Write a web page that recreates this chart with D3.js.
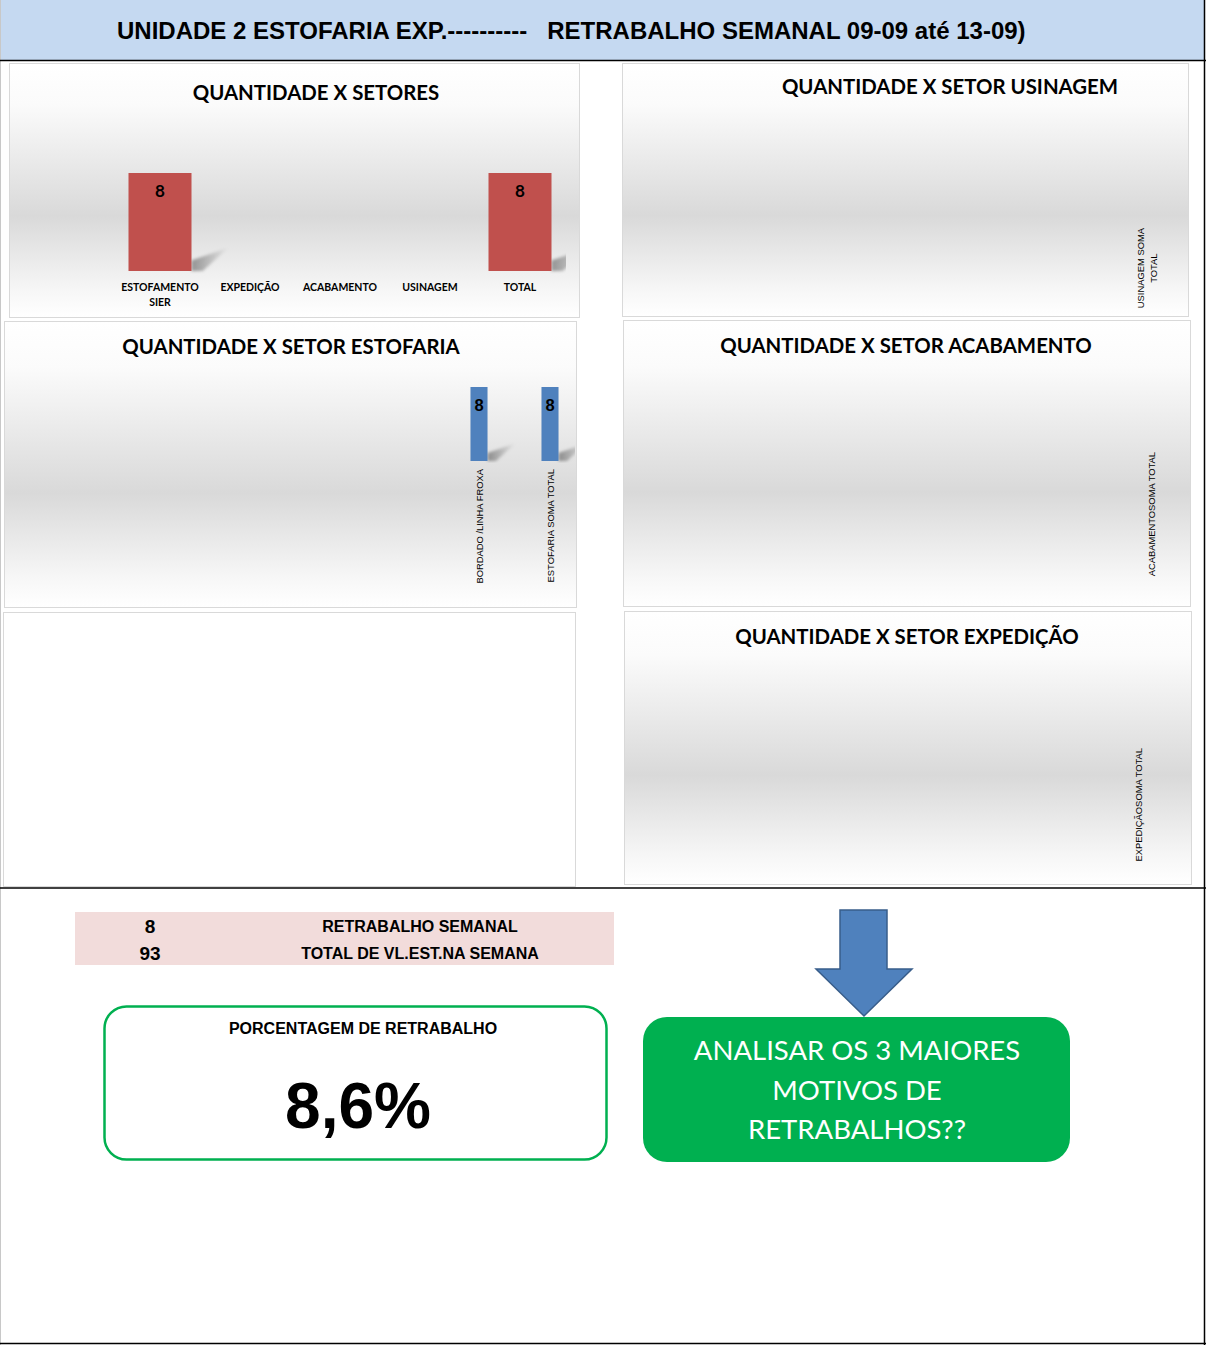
<!DOCTYPE html>
<html><head><meta charset="utf-8">
<script src="https://cdn.jsdelivr.net/npm/d3@7"></script>
<style>body{margin:0;background:#fff}svg{display:block}text{white-space:pre}</style>
</head><body><svg id="c" width="1206" height="1345"></svg>
<script>
// ---------------- DATA ----------------
const headerTitle = "UNIDADE 2 ESTOFARIA EXP.----------   RETRABALHO SEMANAL 09-09 até 13-09)";
const setoresCategories = ["ESTOFAMENTO SIER", "EXPEDIÇÃO", "ACABAMENTO", "USINAGEM", "TOTAL"];
const setoresValues = [8, 0, 0, 0, 8];
const estofariaCategories = ["BORDADO /LINHA FROXA", "ESTOFARIA SOMA TOTAL"];
const estofariaValues = [8, 8];
const usinagemCategories = ["USINAGEM SOMA TOTAL"];
const usinagemValues = [0];
const acabamentoCategories = ["ACABAMENTOSOMA TOTAL"];
const acabamentoValues = [0];
const expedicaoCategories = ["EXPEDIÇÃOSOMA TOTAL"];
const expedicaoValues = [0];
const summaryValues = [8, 93];
const summaryLabels = ["RETRABALHO SEMANAL", "TOTAL DE VL.EST.NA SEMANA"];
const percentTitle = "PORCENTAGEM DE RETRABALHO";
const actionLines = ["ANALISAR OS 3 MAIORES", "MOTIVOS DE", "RETRABALHOS??"];

// ---------------- SETUP ----------------
const svg = d3.select("#c");
const defs = svg.append("defs");
const ARIAL = "Arial, 'Liberation Sans', sans-serif";
const CAL = "Lato, 'Open Sans', sans-serif";

const bg = defs.append("linearGradient").attr("id", "bgGrad").attr("x1", 0).attr("y1", 0).attr("x2", 0).attr("y2", 1);
[[0, "#ffffff"], [0.16, "#fbfbfb"], [0.6, "#d9d9d9"], [0.9, "#f7f7f7"], [1, "#ffffff"]]
  .forEach(([o, c]) => bg.append("stop").attr("offset", o).attr("stop-color", c));

const sh = defs.append("linearGradient").attr("id", "shGrad").attr("x1", 0).attr("y1", 0).attr("x2", 1).attr("y2", 0);
sh.append("stop").attr("offset", 0).attr("stop-color", "#000").attr("stop-opacity", 0.38);
sh.append("stop").attr("offset", 1).attr("stop-color", "#000").attr("stop-opacity", 0);
defs.append("filter").attr("id", "blur").append("feGaussianBlur").attr("stdDeviation", 1.6);

// page frame
svg.append("rect").attr("x", 0).attr("y", 0).attr("width", 1205).attr("height", 60).attr("fill", "#c5d9f1");
svg.append("line").attr("x1", 0.5).attr("x2", 0.5).attr("y1", 0).attr("y2", 1345).attr("stroke", "#c8c8c8");
svg.append("line").attr("x1", 1204.5).attr("x2", 1204.5).attr("y1", 0).attr("y2", 1345).attr("stroke", "#000").attr("stroke-width", 1.5);
svg.append("line").attr("x1", 0).attr("x2", 1206).attr("y1", 60.5).attr("y2", 60.5).attr("stroke", "#000").attr("stroke-width", 1.5);
svg.append("line").attr("x1", 0).attr("x2", 1206).attr("y1", 888).attr("y2", 888).attr("stroke", "#000").attr("stroke-width", 1.5);
svg.append("line").attr("x1", 0).attr("x2", 1206).attr("y1", 1343.5).attr("y2", 1343.5).attr("stroke", "#000").attr("stroke-width", 1.5);

svg.append("text").attr("x", 117).attr("y", 39).attr("font-family", ARIAL).attr("font-weight", "bold")
  .attr("font-size", 24).attr("fill", "#000").text(headerTitle);

// ---------------- CHART PANELS ----------------
function panel(x, y, w, h, gradient) {
  svg.append("rect").attr("x", x + 0.5).attr("y", y + 0.5).attr("width", w).attr("height", h)
    .attr("fill", gradient ? "url(#bgGrad)" : "#fff").attr("stroke", "#d9d9d9");
}

function chart(cfg) {
  panel(cfg.px, cfg.py, cfg.pw, cfg.ph, true);
  const g = svg.append("g");
  const clipId = "clip" + cfg.id;
  defs.append("clipPath").attr("id", clipId).append("rect")
    .attr("x", cfg.px + 1).attr("y", cfg.py + 1).attr("width", cfg.clipW || cfg.pw - 2).attr("height", cfg.ph - 2);
  g.append("text").attr("x", cfg.tx).attr("y", cfg.ty).attr("text-anchor", "middle")
    .attr("font-family", CAL).attr("font-weight", "bold").attr("font-size", 20.4).attr("fill", "#000").text(cfg.title);

  const x = d3.scaleBand().domain(cfg.cats).range(cfg.xr).paddingInner(cfg.pin).paddingOuter(cfg.pin / 2);
  const y = d3.scaleLinear().domain([0, 8]).range([cfg.base, cfg.top]);
  const data = cfg.cats.map((c, i) => ({ c, v: cfg.vals[i] }));

  // shadows
  g.append("g").attr("clip-path", `url(#${clipId})`).selectAll("path").data(data.filter(d => d.v > 0)).join("path")
    .attr("d", d => {
      const xr = x(d.c) + x.bandwidth(), b = y(0), hgt = y(0) - y(d.v);
      const dx = hgt * 0.38, dy = hgt * 0.24;
      return `M${xr},${b} L${xr},${b - dy * 0.45} L${xr + dx},${b - dy} L${xr + dx * 0.3},${b} Z`;
    })
    .attr("fill", "url(#shGrad)").attr("filter", "url(#blur)");

  g.selectAll("rect.bar").data(data).join("rect").attr("class", "bar")
    .attr("x", d => x(d.c)).attr("width", x.bandwidth())
    .attr("y", d => y(d.v)).attr("height", d => y(0) - y(d.v)).attr("fill", cfg.color);

  g.selectAll("text.val").data(data.filter(d => d.v > 0)).join("text").attr("class", "val")
    .attr("x", d => x(d.c) + x.bandwidth() / 2).attr("y", d => y(d.v) + cfg.valDy)
    .attr("text-anchor", "middle").attr("font-family", cfg.valFont).attr("font-weight", "bold")
    .attr("font-size", cfg.valSize).attr("fill", "#000").text(d => String(d.v));

  // category labels
  data.forEach(d => {
    const cx = x(d.c) + x.bandwidth() / 2;
    if (cfg.rotated) {
      const lines = cfg.wrap && cfg.wrap[d.c] ? cfg.wrap[d.c] : [d.c];
      const lh = 13;
      const x0 = cx - (lines.length - 1) * lh / 2;
      let firstLen = 0;
      lines.forEach((ln, i) => {
        const lx = x0 + i * lh;
        const t = g.append("text").attr("font-family", ARIAL).attr("font-size", 9.4).attr("fill", "#000")
          .attr("dominant-baseline", "central").text(ln);
        if (i === 0) {
          t.attr("text-anchor", "end").attr("transform", `translate(${lx},${cfg.labelTop}) rotate(-90)`);
          firstLen = t.node().getComputedTextLength();
        } else {
          t.attr("text-anchor", "middle").attr("transform", `translate(${lx},${cfg.labelTop + firstLen / 2}) rotate(-90)`);
        }
      });
    } else {
      const lines = cfg.wrap && cfg.wrap[d.c] ? cfg.wrap[d.c] : [d.c];
      lines.forEach((ln, i) => {
        g.append("text").attr("x", cx).attr("y", cfg.labelTop + i * 15).attr("text-anchor", "middle")
          .attr("font-family", CAL).attr("font-weight", "bold").attr("font-size", 10.5).attr("fill", "#000").text(ln);
      });
    }
  });
}

chart({ id: 1, px: 9, py: 63, pw: 570, ph: 254, title: "QUANTIDADE X SETORES", tx: 316, ty: 99.5,
  cats: setoresCategories, vals: setoresValues, xr: [115, 565], pin: 0.3, base: 271, top: 173,
  color: "#c0504d", valFont: CAL, valSize: 17, valDy: 24, rotated: false, labelTop: 291,
  wrap: { "ESTOFAMENTO SIER": ["ESTOFAMENTO", "SIER"] }, clipW: 556 });

chart({ id: 2, px: 622, py: 63, pw: 566, ph: 253, title: "QUANTIDADE X SETOR USINAGEM", tx: 950, ty: 94,
  cats: usinagemCategories, vals: usinagemValues, xr: [1120, 1174], pin: 0.5, base: 225, top: 120,
  color: "#4f81bd", valFont: ARIAL, valSize: 16, valDy: 23, rotated: true, labelTop: 228,
  wrap: { "USINAGEM SOMA TOTAL": ["USINAGEM SOMA", "TOTAL"] } });

chart({ id: 3, px: 4, py: 321, pw: 572, ph: 286, title: "QUANTIDADE X SETOR ESTOFARIA", tx: 291, ty: 354,
  cats: estofariaCategories, vals: estofariaValues, xr: [443.5, 585.5], pin: 0.76, base: 461, top: 387,
  color: "#4f81bd", valFont: ARIAL, valSize: 16.5, valDy: 24, rotated: true, labelTop: 469, clipW: 570 });

chart({ id: 4, px: 623, py: 320, pw: 567, ph: 286, title: "QUANTIDADE X SETOR ACABAMENTO", tx: 906, ty: 353,
  cats: acabamentoCategories, vals: acabamentoValues, xr: [1124, 1178], pin: 0.5, base: 448, top: 380,
  color: "#4f81bd", valFont: ARIAL, valSize: 16, valDy: 23, rotated: true, labelTop: 452 });

panel(3, 612, 572, 274, false);

chart({ id: 5, px: 624, py: 611, pw: 567, ph: 273, title: "QUANTIDADE X SETOR EXPEDIÇÃO", tx: 907, ty: 644,
  cats: expedicaoCategories, vals: expedicaoValues, xr: [1111, 1165], pin: 0.5, base: 745, top: 680,
  color: "#4f81bd", valFont: ARIAL, valSize: 16, valDy: 23, rotated: true, labelTop: 748 });

// ---------------- SUMMARY ----------------
svg.append("rect").attr("x", 75).attr("y", 912).attr("width", 539).attr("height", 53).attr("fill", "#f2dcdb");
const rowY = d3.scalePoint().domain(summaryLabels).range([933, 960]);
summaryLabels.forEach((lab, i) => {
  svg.append("text").attr("x", 150).attr("y", rowY(lab)).attr("text-anchor", "middle").attr("font-family", ARIAL)
    .attr("font-weight", "bold").attr("font-size", 19).attr("fill", "#000").text(String(summaryValues[i]));
  svg.append("text").attr("x", 420).attr("y", rowY(lab) - 1).attr("text-anchor", "middle").attr("font-family", ARIAL)
    .attr("font-weight", "bold").attr("font-size", 16).attr("fill", "#000").text(lab);
});

svg.append("rect").attr("x", 104.5).attr("y", 1006.5).attr("width", 502).attr("height", 153).attr("rx", 22)
  .attr("fill", "#fff").attr("stroke", "#00b050").attr("stroke-width", 2.5);
svg.append("text").attr("x", 363).attr("y", 1034).attr("text-anchor", "middle").attr("font-family", ARIAL)
  .attr("font-weight", "bold").attr("font-size", 16).attr("fill", "#000").text(percentTitle);
const pct = summaryValues[0] / summaryValues[1] * 100;
svg.append("text").attr("x", 358).attr("y", 1128).attr("text-anchor", "middle").attr("font-family", ARIAL)
  .attr("font-weight", "bold").attr("font-size", 64).attr("fill", "#000")
  .text(d3.format(".1f")(pct).replace(".", ",") + "%");

// arrow
svg.append("path").attr("d", "M840,910 L887,910 L887,969 L912,969 L864,1016 L816,969 L840,969 Z")
  .attr("fill", "#4f81bd").attr("stroke", "#385d8a").attr("stroke-width", 1.5);

svg.append("rect").attr("x", 643).attr("y", 1017).attr("width", 427).attr("height", 145).attr("rx", 24).attr("fill", "#00b050");
actionLines.forEach((ln, i) => {
  svg.append("text").attr("x", 857).attr("y", 1060 + i * 39.5).attr("text-anchor", "middle").attr("font-family", CAL)
    .attr("font-size", 27.5).attr("fill", "#fff").text(ln);
});
</script></body></html>
